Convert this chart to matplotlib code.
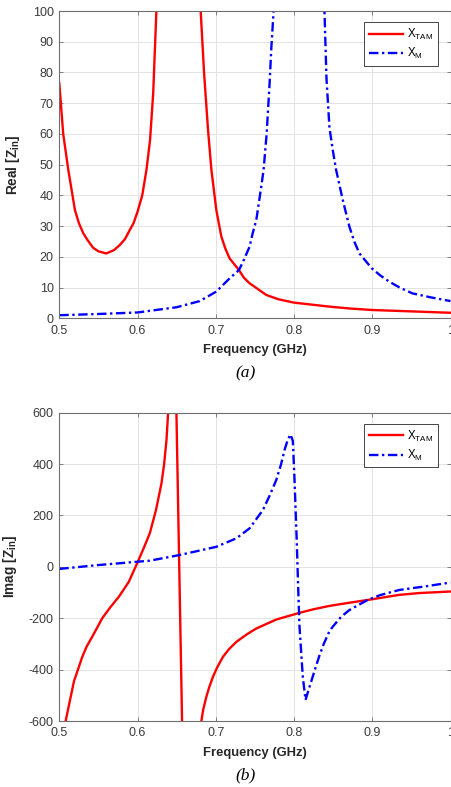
import numpy as np
import matplotlib
matplotlib.use("Agg")
import matplotlib.pyplot as plt

plt.rcParams['font.family'] = ['Liberation Sans', 'DejaVu Sans']
plt.rcParams['mathtext.fontset'] = 'custom'
plt.rcParams['mathtext.rm'] = 'Liberation Sans'
plt.rcParams['mathtext.bf'] = 'Liberation Sans:bold'
plt.rcParams['mathtext.it'] = 'Liberation Sans:italic'
plt.rcParams['axes.unicode_minus'] = False

# ---- (a) Real[Zin] ----
re_tam_f = [0.500, 0.505, 0.5115, 0.520, 0.525, 0.5306, 0.536, 0.543, 0.550, 0.560,
            0.570, 0.5775, 0.584, 0.590, 0.595, 0.600, 0.606, 0.6114, 0.616, 0.620,
            0.6241, 0.628, 0.677, 0.6807, 0.685, 0.6901, 0.6944, 0.7007, 0.7071, 0.7125,
            0.7177, 0.7296, 0.736, 0.7432, 0.7645, 0.780, 0.800, 0.8453, 0.8708, 0.900,
            1.000]
re_tam = [76.5, 60.0, 48.3, 35.2, 31.0, 27.7, 25.5, 23.0, 21.8, 21.1,
          22.2, 23.9, 25.8, 28.7, 31.0, 34.7, 40.0, 48.3, 58.0, 73.2,
          100, 140, 140, 100, 80.0, 61.3, 48.3, 35.2, 26.6, 22.5,
          19.5, 15.7, 13.2, 11.4, 7.6, 6.2, 5.1, 3.8, 3.2, 2.7,
          1.8]

re_m_f = [0.500, 0.550, 0.600, 0.650, 0.6795, 0.7007, 0.7177, 0.7296, 0.735, 0.7432,
          0.747, 0.7518, 0.7581, 0.7611, 0.765, 0.7688, 0.771, 0.7739, 0.777, 0.836,
          0.8389, 0.8415, 0.8453, 0.850, 0.8538, 0.8623, 0.8708, 0.877, 0.8836, 0.8993,
          0.910, 0.9219, 0.935, 0.9515, 0.975, 1.000]
re_m = [1.0, 1.4, 1.9, 3.6, 5.6, 8.7, 13.0, 15.7, 18.5, 23.3,
        27.5, 32.0, 42.8, 48.3, 60.0, 76.5, 88.0, 100, 140, 140,
        100, 78.0, 62.0, 54.0, 48.3, 38.5, 29.8, 25.0, 21.1, 16.3,
        14.0, 11.9, 10.0, 8.1, 6.8, 5.6]

# ---- (b) Imag[Zin] ----
im_tam_f = [0.505, 0.5081, 0.5187, 0.5294, 0.535, 0.5421, 0.5549, 0.565, 0.5762, 0.5889,
            0.5995, 0.6075, 0.6157, 0.6235, 0.6306, 0.634, 0.6370, 0.6391, 0.641, 0.648,
            0.6497, 0.6515, 0.6533, 0.6551, 0.6569, 0.658, 0.679, 0.6816, 0.684, 0.688,
            0.692, 0.6965, 0.702, 0.7092, 0.717, 0.7263, 0.740, 0.7518, 0.7773, 0.807,
            0.825, 0.8453, 0.870, 0.894, 0.9346, 0.960, 1.000]
im_tam = [-700, -600, -446, -350, -310, -272, -200, -158, -116, -58,
          14, 70, 131, 220, 325, 400, 494, 600, 750, 800,
          600, 300, 0, -300, -600, -800, -700, -600, -555, -505,
          -465, -427, -390, -350, -320, -292, -262, -240, -205, -179,
          -165, -152, -140, -129, -109, -102, -96]

im_m_f = [0.500, 0.550, 0.600, 0.6157, 0.6537, 0.7007, 0.7263, 0.7432, 0.7602, 0.7685,
          0.7773, 0.7835, 0.7879, 0.792, 0.7955, 0.7985, 0.8005, 0.8035, 0.8055, 0.807,
          0.8112, 0.8147, 0.8195, 0.8262, 0.8325, 0.838, 0.8453, 0.8495, 0.860, 0.8708,
          0.894, 0.910, 0.9346, 0.970, 1.000]
im_m = [-8, 7, 20, 24, 46, 78, 111, 150, 221, 275,
        338, 400, 455, 495, 515, 490, 350, 100, -100, -233,
        -427, -518, -470, -405, -345, -300, -250, -233, -195, -168,
        -129, -110, -90, -75, -61]

W, H = 451, 787
fig = plt.figure(figsize=(W / 100, H / 100), dpi=100)

def make_axes(top_px, bot_px):
    left, right = 59.3, 450.5
    return fig.add_axes([left / W, 1 - bot_px / H, (right - left) / W, (bot_px - top_px) / H])

ax1 = make_axes(11, 318.3)
ax2 = make_axes(412.7, 721)

tick_col = '#3a3a3a'
spine_col = '#6e6e6e'

def style(ax, ylim, yticks, ylabel, ylab_x):
    ax.set_xlim(0.5, 1.0)
    ax.set_ylim(*ylim)
    ax.set_xticks([0.5, 0.6, 0.7, 0.8, 0.9, 1.0])
    ax.set_xticklabels(['0.5', '0.6', '0.7', '0.8', '0.9', '1'])
    ax.set_yticks(yticks)
    ax.grid(True, color='#e3e3e3', lw=0.7)
    ax.set_axisbelow(True)
    for s in ax.spines.values():
        s.set_color(spine_col)
        s.set_linewidth(0.8)
    ax.tick_params(direction='in', length=3, width=0.6, color=spine_col,
                   labelcolor=tick_col, labelsize=9, top=True, right=True)
    ax.tick_params(axis='x', pad=4.5)
    ax.tick_params(axis='y', pad=4)
    ax.set_xlabel('Frequency (GHz)', fontsize=9.4, fontweight='bold', color='#262626')
    ax.xaxis.set_label_coords(0.5, -0.085)
    ax.set_ylabel(ylabel, fontsize=9.8, fontweight='bold', color='#262626')
    ax.yaxis.set_label_coords(ylab_x, 0.5)

def draw(ax, f1, v1, f2, v2):
    ax.plot(f1, v1, color='red', lw=1.7, label='X$_{\\mathrm{TAM}}$')
    ax.plot(f2, v2, color='blue', lw=1.7, dashes=(4, 1.5, 1, 1.5), label='X$_{\\mathrm{M}}$')
    leg = ax.legend(loc='upper right', bbox_to_anchor=(0.967, 0.964), borderaxespad=0,
                    fontsize=8.3, fancybox=False, framealpha=1, edgecolor='#262626',
                    handlelength=3.0, handletextpad=0.3, borderpad=0.4, labelspacing=0.35)
    leg.get_frame().set_linewidth(0.6)

draw(ax1, re_tam_f, re_tam, re_m_f, re_m)
style(ax1, (0, 100), np.arange(0, 101, 10), 'Real [Z$_{\\mathbf{in}}$]', -0.095)

draw(ax2, im_tam_f, im_tam, im_m_f, im_m)
style(ax2, (-600, 600), np.arange(-600, 601, 200), 'Imag [Z$_{\\mathbf{in}}$]', -0.104)

fig.text(246 / W, 1 - 373 / H, '(a)', family='Liberation Serif', style='italic',
         fontsize=12.5, ha='center', va='center')
fig.text(246 / W, 1 - 775 / H, '(b)', family='Liberation Serif', style='italic',
         fontsize=12.5, ha='center', va='center')

fig.savefig('out.png', dpi=100)
